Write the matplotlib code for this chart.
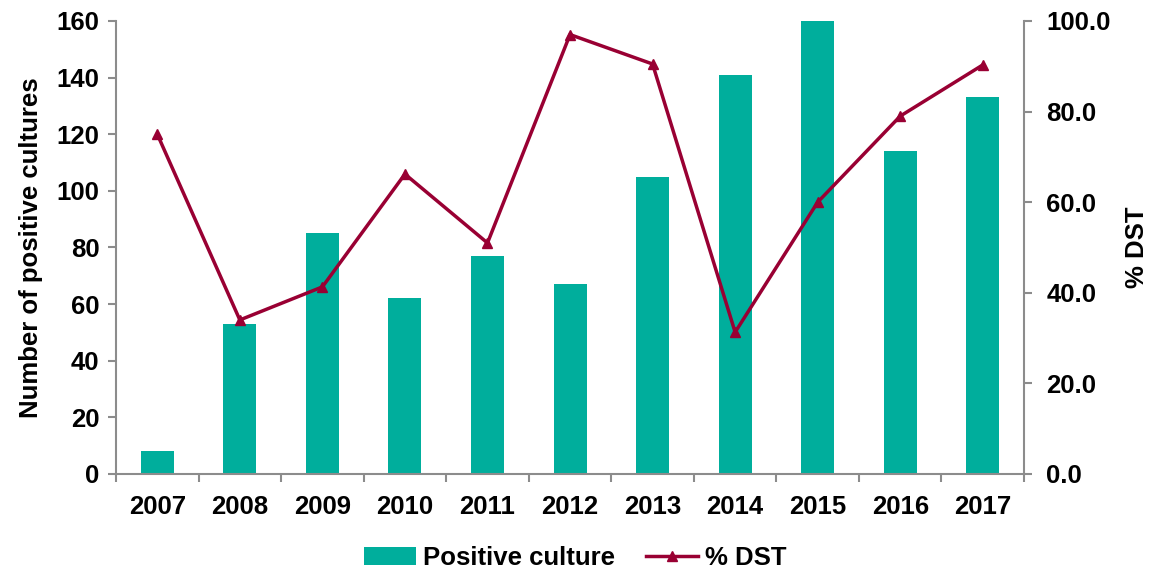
import matplotlib
matplotlib.use("Agg")
import matplotlib.pyplot as plt
import numpy as np

years = ["2007", "2008", "2009", "2010", "2011", "2012", "2013", "2014", "2015", "2016", "2017"]
positive_culture = [8, 53, 85, 62, 77, 67, 105, 141, 160, 114, 133]
pct_dst = [75.0, 34.0, 41.3, 66.2, 51.0, 97.0, 90.5, 31.3, 60.0, 79.0, 90.3]

plt.rcParams['font.family'] = ['Liberation Sans', 'DejaVu Sans']
plt.rcParams['font.weight'] = 'bold'

BAR = '#00AE9C'
LINE = '#990033'
GRAY = '#8C8C8C'
FS = 18.5

fig = plt.figure(figsize=(11.51, 5.75), dpi=100)
ax = fig.add_axes([0.1008, 0.1757, 0.7889, 0.7878])
x = np.arange(len(years))
bars = ax.bar(x, positive_culture, width=0.4, color=BAR, label='Positive culture', zorder=2)
ax.set_xlim(-0.5, len(years) - 0.5)
ax.set_ylim(0, 160)
ax.set_yticks(range(0, 161, 20))
ax.set_xticks(x)
ax.set_xticklabels(years)
ax.set_xticks(np.arange(-0.5, len(years), 1.0), minor=True)
ax.tick_params(axis='x', which='major', length=0, pad=15, labelsize=FS)
ax.tick_params(axis='x', which='minor', length=6, width=1.5, color=GRAY, direction='out')
ax.tick_params(axis='y', length=6, width=1.5, color=GRAY, direction='out', labelsize=FS, pad=6)
for s in ['top', 'right']:
    ax.spines[s].set_visible(False)
for s in ['left', 'bottom']:
    ax.spines[s].set_color(GRAY)
    ax.spines[s].set_linewidth(1.5)
ax.set_ylabel('Number of positive cultures', fontsize=FS, fontweight='bold', labelpad=10)

ax2 = ax.twinx()
line, = ax2.plot(x, pct_dst, color=LINE, lw=2.5, marker='^', markersize=7, label='% DST', zorder=3)
ax2.set_ylim(0, 100)
ax2.set_yticks(range(0, 101, 20))
ax2.set_yticklabels([f'{v:.1f}' for v in range(0, 101, 20)])
ax2.tick_params(axis='y', length=6, width=1.5, color=GRAY, direction='out', labelsize=FS, pad=10)
for s in ['top', 'left', 'bottom']:
    ax2.spines[s].set_visible(False)
ax2.spines['right'].set_color(GRAY)
ax2.spines['right'].set_linewidth(1.5)
ax2.set_ylabel('% DST', fontsize=FS, fontweight='bold', labelpad=10)

fig.legend([bars, line], ['Positive culture', '% DST'], loc='center', bbox_to_anchor=(0.5, 0.03),
           ncol=2, frameon=False, prop={'size': FS, 'weight': 'bold'}, handlelength=2.0,
           columnspacing=1.2, handletextpad=0.3)

fig.savefig('out.png', dpi=100)
